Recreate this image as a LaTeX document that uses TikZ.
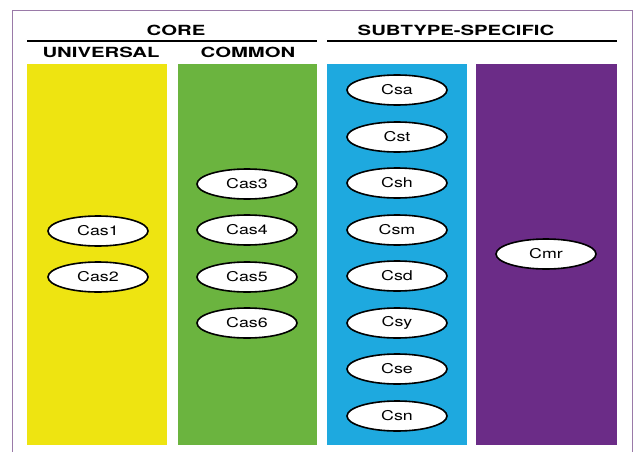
\documentclass[tikz,border=0pt]{standalone}
\usepackage{fontspec}
\setmainfont[FakeStretch=1.32]{TeX Gyre Heros}
\newfontfamily\hdrfont[FakeStretch=1.45]{TeX Gyre Heros}
\usetikzlibrary{shapes.geometric}
\definecolor{cyel}{HTML}{EEE411}
\definecolor{cgrn}{HTML}{6BB43F}
\definecolor{cblu}{HTML}{1EA9DF}
\definecolor{cpur}{HTML}{6B2C87}
\definecolor{cfrm}{HTML}{9A7AA8}
\begin{document}
\begin{tikzpicture}[x=1pt,y=-1pt,
  cas/.style={ellipse,draw=black,line width=1.6pt,fill=white,minimum width=100pt,minimum height=30pt,inner sep=0pt,font=\fontsize{13.5}{15}\selectfont},
  hdr/.style={font=\hdrfont\bfseries\fontsize{14}{16}\selectfont,inner sep=0pt}]
\useasboundingbox (0,0) rectangle (634,452);
\fill[white] (0,0) rectangle (634,452);
\draw[cfrm,line width=1pt] (12.5,460) -- (12.5,11) -- (632,11) -- (632,460);
% columns
\fill[cyel] (27,64) rectangle (167,445);
\fill[cgrn] (178,64) rectangle (317,445);
\fill[cblu] (327,64) rectangle (467,445);
\fill[cpur] (476,64) rectangle (617,445);
% header lines
\coordinate (l1a) at (27,41); \coordinate (l1b) at (317,41);
\coordinate (l2a) at (327,41); \coordinate (l2b) at (617,41);
\draw[line width=1.3pt] (l1a) -- (l1b);
\draw[line width=1.3pt] (l2a) -- (l2b);
\node[hdr] (core) at (176,30) {CORE};
\node[hdr] (sub) at (456,30) {SUBTYPE-SPECIFIC};
\node[hdr] (uni) at (101,52) {UNIVERSAL};
\node[hdr] (com) at (248,52) {COMMON};
% ellipses
\node[cas] (cas1) at (98,231) {Cas1};
\node[cas] (cas2) at (98,277) {Cas2};
\node[cas] (cas3) at (247,184) {Cas3};
\node[cas] (cas4) at (247,230) {Cas4};
\node[cas] (cas5) at (247,277) {Cas5};
\node[cas] (cas6) at (247,323) {Cas6};
\node[cas] (csa) at (397,90) {Csa};
\node[cas] (cst) at (397,137) {Cst};
\node[cas] (csh) at (397,183) {Csh};
\node[cas] (csm) at (397,230) {Csm};
\node[cas] (csd) at (397,276) {Csd};
\node[cas] (csy) at (397,323) {Csy};
\node[cas] (cse) at (397,369) {Cse};
\node[cas] (csn) at (397,416) {Csn};
\node[cas] (cmr) at (546,254) {Cmr};
\end{tikzpicture}
\end{document}
